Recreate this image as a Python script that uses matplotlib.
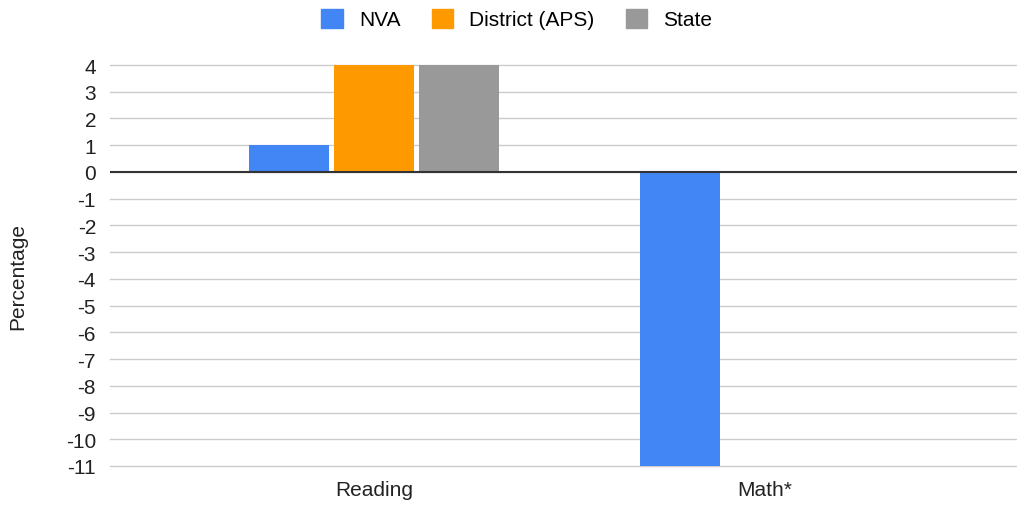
import matplotlib
matplotlib.use("Agg")
import matplotlib.pyplot as plt
from matplotlib.patches import Patch
import numpy as np

categories = ["Reading", "Math*"]
series_names = ["NVA", "District (APS)", "State"]
nva = [1, -11]
district = [4, 0]
state = [4, 0]
colors = ["#4285F4", "#FF9900", "#999999"]
yticks = list(range(-11, 5))

plt.rcParams['font.family'] = ['Liberation Sans', 'DejaVu Sans']
FS = 15

fig = plt.figure(figsize=(10.17, 5.06), dpi=100)
ax = fig.add_axes([110/1017, 1-467/506, 1-110/1017, (467-66)/506])

x = np.arange(len(categories))
width = 80/391
step = 85/391
for i, (vals, c) in enumerate(zip([nva, district, state], colors)):
    ax.bar(x + (i-1)*step, vals, width=width, color=c, zorder=3)

ax.set_xlim(-264/391, 1 + (1017-765)/391)
ax.set_ylim(-11, 4)
ax.set_yticks(yticks)
ax.set_yticklabels([str(t) for t in yticks], fontsize=FS, color="#222222")
ax.set_xticks(x)
ax.set_xticklabels(categories, fontsize=FS, color="#222222")
ax.tick_params(axis='both', length=0)
ax.tick_params(axis='y', pad=10)
ax.tick_params(axis='x', pad=10)
ax.grid(axis='y', color="#cccccc", linewidth=1, zorder=0)
for gl in ax.get_ygridlines():
    gl.set_clip_on(False)
ax.axhline(0, color="#333333", linewidth=1.5, zorder=4)
for s in ax.spines.values():
    s.set_visible(False)
fig.text(18/1017, 1-277/506, "Percentage", rotation=90, ha='center', va='center',
         fontsize=FS, color="#222222")

handles = [Patch(facecolor=c, edgecolor=c) for c in colors]
fig.legend(handles, series_names, loc='center', bbox_to_anchor=(0.508, 1-20/506),
           ncol=3, frameon=False, fontsize=FS, handlelength=1.05, handleheight=1.05,
           columnspacing=1.5, handletextpad=0.75)

fig.savefig("out.png", dpi=100)
